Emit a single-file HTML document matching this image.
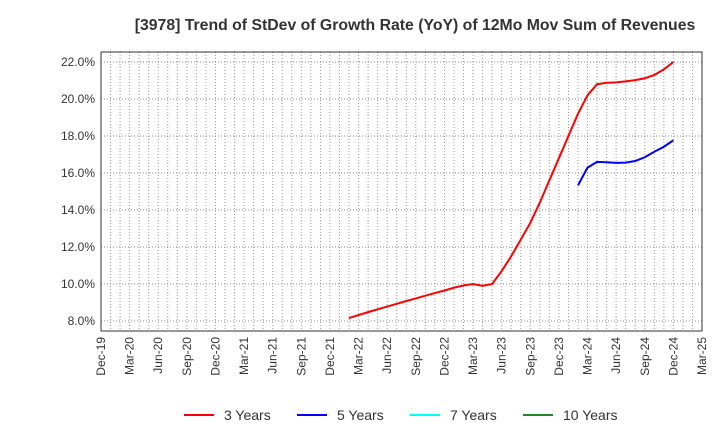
<!DOCTYPE html>
<html><head><meta charset="utf-8"><style>
body{margin:0;background:#fff}
svg{font-family:"Liberation Sans",sans-serif;display:block}
</style></head><body>
<svg id="chart" width="720" height="440">
<text x="415" y="30" text-anchor="middle" font-size="15.8" font-weight="bold" fill="#333">[3978]  Trend of StDev of Growth Rate (YoY) of 12Mo Mov Sum of Revenues</text>
<g id="grid"></g>
<rect x="101" y="52" width="601" height="279" fill="none" stroke="#333" stroke-width="1"/>
<g id="axes"></g>
<g id="series"></g>
<g>
<line x1="184" y1="415" x2="214" y2="415" stroke="#f00" stroke-width="2"/><text x="224" y="420" font-size="14" fill="#333">3 Years</text>
<line x1="297" y1="415" x2="327" y2="415" stroke="#00f" stroke-width="2"/><text x="337" y="420" font-size="14" fill="#333">5 Years</text>
<line x1="410" y1="415" x2="440" y2="415" stroke="#0ff" stroke-width="2"/><text x="450" y="420" font-size="14" fill="#333">7 Years</text>
<line x1="523" y1="415" x2="553" y2="415" stroke="#228b22" stroke-width="2"/><text x="563" y="420" font-size="14" fill="#333">10 Years</text>
</g>
</svg>
<script>
const xLabels=["Dec-19","Mar-20","Jun-20","Sep-20","Dec-20","Mar-21","Jun-21","Sep-21","Dec-21","Mar-22","Jun-22","Sep-22","Dec-22","Mar-23","Jun-23","Sep-23","Dec-23","Mar-24","Jun-24","Sep-24","Dec-24","Mar-25"];
const yTicks=[8,10,12,14,16,18,20,22];
const red3Start=26;
const red3=[8.16,8.32,8.48,8.63,8.78,8.93,9.08,9.22,9.37,9.51,9.65,9.8,9.92,10.0,9.9,10.0,10.7,11.5,12.4,13.3,14.4,15.6,16.8,18.0,19.2,20.2,20.8,20.88,20.9,20.95,21.02,21.12,21.3,21.6,22.0];
const blue5Start=50;
const blue5=[15.33,16.29,16.6,16.58,16.55,16.56,16.65,16.85,17.15,17.42,17.77];
const NS="http://www.w3.org/2000/svg";
const X=m=>101+m*601/63;
const Y=v=>321-(v-8)*(259/14);
const grid=document.getElementById('grid'),axes=document.getElementById('axes'),series=document.getElementById('series');
function mk(tag,attrs,parent){const e=document.createElementNS(NS,tag);for(const k in attrs)e.setAttribute(k,attrs[k]);parent.appendChild(e);return e;}
for(let m=1;m<63;m++){
 const g=mk('line',{x1:X(m),x2:X(m),y1:52,y2:331,stroke:'#999','stroke-dasharray':'1,2','stroke-width':1},grid);
 
 
}
yTicks.forEach(v=>{
 const g=mk('line',{x1:101,x2:702,y1:Y(v),y2:Y(v),stroke:'#888','stroke-dasharray':'1,2','stroke-width':1},grid);
 
 
 const t=mk('text',{x:95,y:Y(v)+4,'text-anchor':'end','font-size':12,fill:'#333'},axes);
 t.textContent=v.toFixed(1)+'%';
 
 
});
xLabels.forEach((l,i)=>{
 const x=X(i*3)+4,y=337;
 const t=mk('text',{x:x,y:y,'text-anchor':'end','font-size':12,fill:'#333',transform:`rotate(-90 ${x} ${y})`},axes);
 t.textContent=l;
 
 
});
function line(vals,start,color,name){
 const p=mk('polyline',{points:vals.map((v,i)=>X(start+i)+','+Y(v)).join(' '),fill:'none',stroke:color,'stroke-width':2},series);
 
 
}
line(red3,red3Start,'#f00','line-3-years');
line(blue5,blue5Start,'#00f','line-5-years');
</script>
</body></html>
